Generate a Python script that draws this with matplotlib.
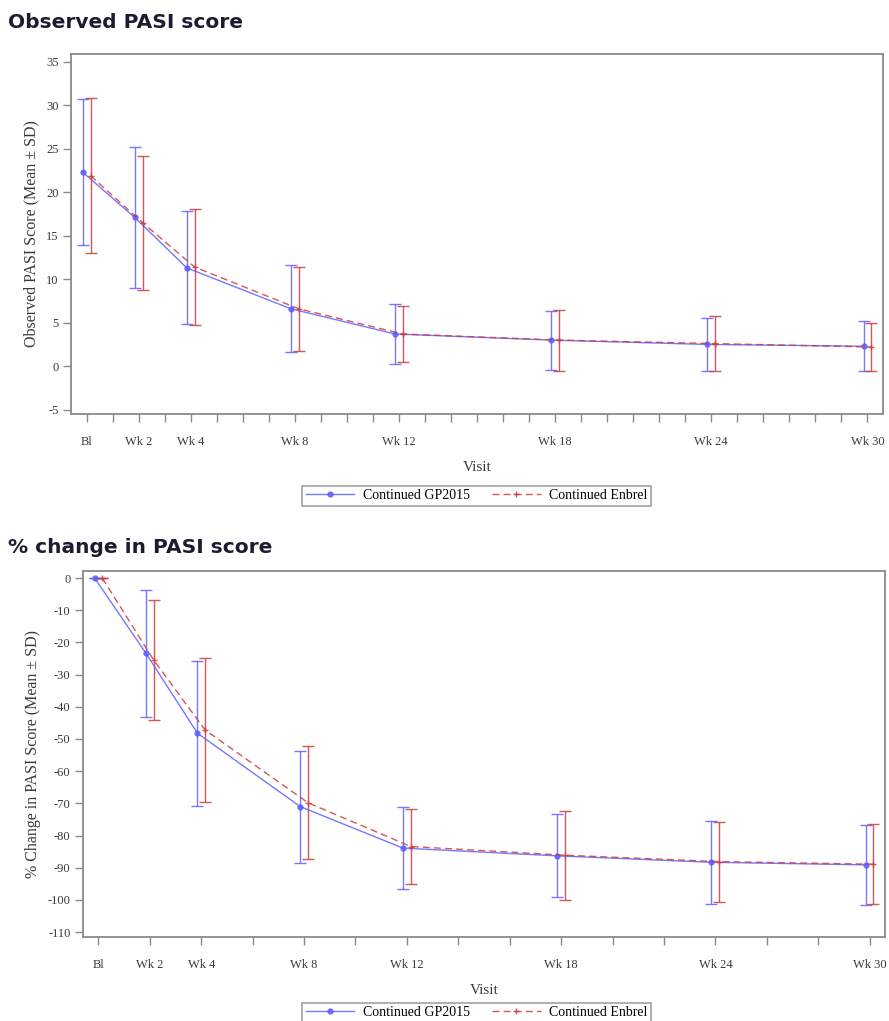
import numpy as np
import matplotlib
matplotlib.use('Agg')
import matplotlib.pyplot as plt
from matplotlib.lines import Line2D

plt.rcParams['axes.unicode_minus'] = False

# ---------------- data ----------------
visits = ['Bl', 'Wk 2', 'Wk 4', 'Wk 8', 'Wk 12', 'Wk 18', 'Wk 24', 'Wk 30']
weeks = [0, 2, 4, 8, 12, 18, 24, 30]

obs_gp_mean = [22.3, 17.1, 11.3, 6.6, 3.7, 3.0, 2.5, 2.3]
obs_gp_sd = [8.4, 8.1, 6.5, 5.0, 3.4, 3.4, 3.0, 2.9]
obs_en_mean = [21.9, 16.5, 11.4, 6.6, 3.7, 3.0, 2.6, 2.2]
obs_en_sd = [8.9, 7.7, 6.7, 4.8, 3.2, 3.5, 3.2, 2.8]

pct_gp_mean = [0.0, -23.4, -48.2, -71.0, -83.9, -86.3, -88.3, -89.1]
pct_gp_sd = [0.0, 19.8, 22.5, 17.4, 12.8, 12.9, 12.9, 12.4]
pct_en_mean = [0.0, -25.5, -47.2, -69.8, -83.4, -86.1, -88.1, -88.9]
pct_en_sd = [0.0, 18.7, 22.3, 17.6, 11.8, 13.8, 12.4, 12.5]

series_names = ['Continued GP2015', 'Continued Enbrel']

BLUE = '#5f5fff'
RED = '#cc3b3b'
GREY = '#8a8a8a'
TXT = '#3a3a3a'
serif = 'Liberation Serif'

fig = plt.figure(figsize=(8.89, 10.21), dpi=100)


def draw_panel(ax, gp_m, gp_s, en_m, en_s, ylabel, yticks, ylim, minor_step):
    w = np.array(weeks, dtype=float)
    ax.errorbar(w - 0.15, gp_m, yerr=gp_s, color=BLUE, lw=1.0, marker='o', ms=3.5,
                capsize=4, elinewidth=1.0, capthick=1.0, alpha=0.85)
    ax.errorbar(w + 0.15, en_m, yerr=en_s, color=RED, lw=1.0, ls=(0, (5, 3)),
                marker='+', ms=5, capsize=4, elinewidth=1.0, capthick=1.0, alpha=0.85)
    ax.set_xlim(-0.6, 30.6)
    ax.set_ylim(*ylim)
    ax.set_xticks(weeks)
    ax.set_xticklabels(visits)
    ax.set_xticks([x for x in range(0, 31, minor_step) if x not in weeks], minor=True)
    ax.set_yticks(yticks)
    for s in ax.spines.values():
        s.set_color(GREY)
        s.set_linewidth(1.3)
    ax.tick_params(which='both', direction='out', length=6, width=1.0, color=GREY,
                   labelsize=9, labelcolor=TXT)
    ax.tick_params(axis='x', pad=10)
    ax.tick_params(axis='y', pad=3)
    for lab in ax.get_xticklabels() + ax.get_yticklabels():
        lab.set_family(serif)
    ax.set_xlabel('Visit', family=serif, fontsize=11, color=TXT, labelpad=9)
    ax.set_ylabel(ylabel, family=serif, fontsize=11.5, color=TXT, labelpad=5)


def add_legend(y):
    handles = [Line2D([], [], color=BLUE, lw=1.0, marker='o', ms=3.5, alpha=0.85),
               Line2D([], [], color=RED, lw=1.0, ls=(0, (5, 3)), marker='+', ms=5, alpha=0.85)]
    leg = fig.legend(handles=handles, labels=series_names, loc='center',
                     bbox_to_anchor=(0.536, y), ncol=2, frameon=True, fancybox=False,
                     prop={'family': serif, 'size': 10}, handlelength=3.5,
                     columnspacing=1.6, borderpad=0.25, handletextpad=0.6)
    leg.get_frame().set_edgecolor(GREY)
    leg.get_frame().set_linewidth(1.2)


# ---------------- top panel ----------------
ax1 = fig.add_axes([0.0799, 0.5945, 0.9134, 0.3526])
draw_panel(ax1, obs_gp_mean, obs_gp_sd, obs_en_mean, obs_en_sd,
           'Observed PASI Score (Mean \u00b1 SD)', np.arange(-5, 36, 5), (-5.5, 35.9), 1)
fig.text(0.009, 0.978, 'Observed PASI score', family='DejaVu Sans', weight='bold',
         fontsize=14.5, color='#1c1c30', va='center')
add_legend(0.5145)

# ---------------- bottom panel ----------------
ax2 = fig.add_axes([0.0934, 0.0823, 0.9021, 0.3585])
draw_panel(ax2, pct_gp_mean, pct_gp_sd, pct_en_mean, pct_en_sd,
           '% Change in PASI Score (Mean \u00b1 SD)', np.arange(-110, 1, 10), (-111.5, 2.2), 2)
fig.text(0.009, 0.464, '% change in PASI score', family='DejaVu Sans', weight='bold',
         fontsize=14.5, color='#1c1c30', va='center')
add_legend(0.008)

fig.savefig('out.png', dpi=100)
